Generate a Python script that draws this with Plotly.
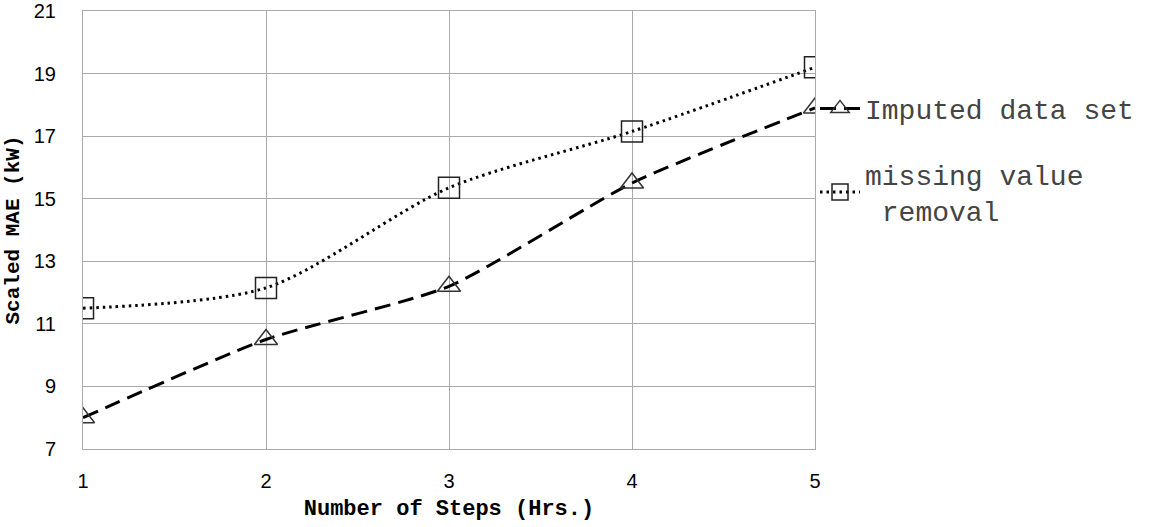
import plotly.graph_objects as go

steps = [1, 2, 3, 4, 5]
imputed = [8.0, 10.5, 12.2, 15.5, 17.9]
removal = [11.5, 12.15, 15.35, 17.15, 19.2]
y_ticks = [7, 9, 11, 13, 15, 17, 19, 21]

fig = go.Figure()
fig.add_trace(go.Scatter(
    x=steps, y=imputed, name="Imputed data set", mode="lines+markers", legendgroup="a",
    line=dict(color="black", width=3, dash="16px,8px", shape="spline", smoothing=0.6),
    marker=dict(symbol="triangle-up-open", size=20, color="#333", line=dict(width=1.5)),
))
fig.add_trace(go.Scatter(
    x=steps, y=removal, name="missing value<br> removal", mode="lines+markers", legendgroup="b",
    line=dict(color="black", width=3, dash="2.5px,4px", shape="spline", smoothing=0.8),
    marker=dict(symbol="square-open", size=21, color="#222", line=dict(width=1.5)),
))

fig.update_layout(
    width=1153, height=527,
    margin=dict(l=83, r=338, t=11, b=78, autoexpand=False),
    paper_bgcolor="white", plot_bgcolor="white",
    showlegend=True,
    legend=dict(x=1.0, xanchor="left", y=0.834, yanchor="top",
                font=dict(family="Liberation Mono", size=28, color="#444"),
                bgcolor="rgba(0,0,0,0)", tracegroupgap=26, itemwidth=40),
    xaxis=dict(range=[1, 5], tickvals=steps, showgrid=True, gridcolor="#aaa", gridwidth=1,
               showline=True, linecolor="#aaa", mirror=True, zeroline=False,
               ticks="outside", ticklen=14, tickcolor="rgba(0,0,0,0)",
               tickfont=dict(family="Liberation Sans", size=20, color="black"),
               title=dict(text="<b>Number of Steps (Hrs.)</b>", standoff=8,
                          font=dict(family="Liberation Mono", size=22, color="black"))),
    yaxis=dict(range=[7, 21], tickvals=y_ticks, showgrid=True, gridcolor="#aaa", gridwidth=1,
               showline=True, linecolor="#aaa", mirror=True, zeroline=False,
               ticks="outside", ticklen=22, tickcolor="rgba(0,0,0,0)",
               tickfont=dict(family="Liberation Sans", size=20, color="black"),
               title=dict(text="<b>Scaled MAE (kW)</b>", standoff=8,
                          font=dict(family="Liberation Mono", size=21, color="black"))),
)

fig.write_html("out.html")
